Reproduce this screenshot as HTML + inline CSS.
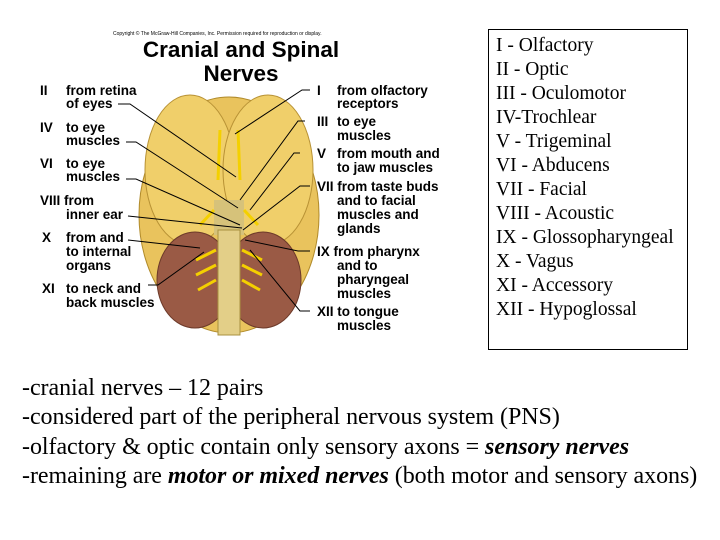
<!DOCTYPE html>
<html><head><meta charset="utf-8"><style>
body{margin:0;width:720px;height:540px;background:#fff;position:relative;overflow:hidden;font-family:"Liberation Serif",serif}
.box{position:absolute;left:488px;top:29px;width:198px;height:319px;border:1px solid #000;}
.box div{position:absolute;left:7px;font-size:19.5px;line-height:24px;white-space:nowrap}
.bt{position:absolute;left:22px;top:374px;font-size:24px;line-height:29.3px;white-space:nowrap;letter-spacing:-0.05px}
</style></head><body>
<svg width="480" height="345" style="position:absolute;left:0;top:0" font-family="Liberation Sans, sans-serif" font-weight="bold" font-size="13.5">
<text x="113" y="35" font-size="5" font-weight="normal">Copyright © The McGraw-Hill Companies, Inc. Permission required for reproduction or display.</text>
<text x="241" y="57" font-size="22.5" text-anchor="middle">Cranial and Spinal</text>
<text x="241" y="81" font-size="22.5" text-anchor="middle">Nerves</text>
<ellipse cx="229" cy="215" rx="90" ry="118" fill="#e9c35d" stroke="#b08a2a"/>
<ellipse cx="190" cy="170" rx="45" ry="75" fill="#f0cf6a" stroke="#b89235"/>
<ellipse cx="268" cy="170" rx="45" ry="75" fill="#f0cf6a" stroke="#b89235"/>
<ellipse cx="195" cy="280" rx="38" ry="48" fill="#9a5a45" stroke="#6d3a2a"/>
<ellipse cx="263" cy="280" rx="38" ry="48" fill="#9a5a45" stroke="#6d3a2a"/>
<rect x="214" y="200" width="30" height="35" fill="#d6c27a"/>
<rect x="218" y="230" width="22" height="105" fill="#e3cf88" stroke="#a8913f"/>
<g stroke="#f4d000" stroke-width="3" fill="none">
<path d="M220 130 L218 180"/><path d="M238 130 L240 180"/>
<path d="M214 210 L200 225"/><path d="M244 210 L258 225"/>
<path d="M216 250 L196 260 M216 265 L196 275 M216 280 L198 290 M242 250 L262 260 M242 265 L262 275 M242 280 L260 290"/>
</g>
<g stroke="#000" stroke-width="1" fill="none">
<path d="M118 104 L130 104 L236 177"/>
<path d="M126 142 L136 142 L238 208"/>
<path d="M126 179 L136 179 L240 225"/>
<path d="M128 216 L242 228"/>
<path d="M128 240 L200 248"/>
<path d="M148 285 L158 285 L204 252"/>
<path d="M310 90 L302 90 L235 134"/>
<path d="M305 121 L298 121 L240 200"/>
<path d="M300 153 L294 153 L250 210"/>
<path d="M310 186 L300 186 L243 230"/>
<path d="M310 251 L298 251 L245 240"/>
<path d="M310 311 L300 311 L250 250"/>
</g>
<g>
<text x="40" y="95">II</text><text x="66" y="95">from retina</text><text x="66" y="108">of eyes</text>
<text x="40" y="132">IV</text><text x="66" y="132">to eye</text><text x="66" y="145">muscles</text>
<text x="40" y="168">VI</text><text x="66" y="168">to eye</text><text x="66" y="181">muscles</text>
<text x="40" y="205">VIII from</text><text x="66" y="219">inner ear</text>
<text x="42" y="242">X</text><text x="66" y="242">from and</text><text x="66" y="256">to internal</text><text x="66" y="270">organs</text>
<text x="42" y="293">XI</text><text x="66" y="293">to neck and</text><text x="66" y="307">back muscles</text>
<text x="317" y="95">I</text><text x="337" y="95">from olfactory</text><text x="337" y="108">receptors</text>
<text x="317" y="126">III</text><text x="337" y="126">to eye</text><text x="337" y="140">muscles</text>
<text x="317" y="158">V</text><text x="337" y="158">from mouth and</text><text x="337" y="172">to jaw muscles</text>
<text x="317" y="191">VII from taste buds</text><text x="337" y="205">and to facial</text><text x="337" y="219">muscles and</text><text x="337" y="233">glands</text>
<text x="317" y="256">IX from pharynx</text><text x="337" y="270">and to</text><text x="337" y="284">pharyngeal</text><text x="337" y="298">muscles</text>
<text x="317" y="316">XII to tongue</text><text x="337" y="330">muscles</text>
</g>
</svg>
<div class="box">
<div style="top:4px">I - Olfactory</div>
<div style="top:28px">II - Optic</div>
<div style="top:52px">III - Oculomotor</div>
<div style="top:76px">IV-Trochlear</div>
<div style="top:100px">V - Trigeminal</div>
<div style="top:124px">VI - Abducens</div>
<div style="top:148px">VII - Facial</div>
<div style="top:172px">VIII - Acoustic</div>
<div style="top:196px">IX - Glossopharyngeal</div>
<div style="top:220px">X - Vagus</div>
<div style="top:244px">XI - Accessory</div>
<div style="top:268px">XII - Hypoglossal</div>
</div>
<div class="bt">-cranial nerves – 12 pairs<br>-considered part of the peripheral nervous system (PNS)<br>-olfactory &amp; optic contain only sensory axons = <b><i>sensory nerves</i></b><br>-remaining are <b><i>motor or mixed nerves</i></b> (both motor and sensory axons)</div>
</body></html>
